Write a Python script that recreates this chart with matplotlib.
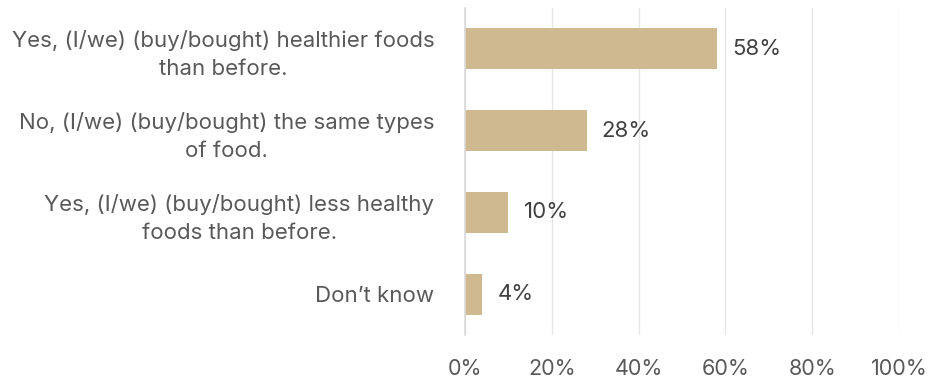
import matplotlib.pyplot as plt

categories = [
    "Yes, (I/we) (buy/bought) healthier foods\nthan before.",
    "No, (I/we) (buy/bought) the same types\nof food.",
    "Yes, (I/we) (buy/bought) less healthy\nfoods than before.",
    "Don\u2019t know",
]
values = [58, 28, 10, 4]
ticks = [0, 20, 40, 60, 80, 100]

plt.rcParams["font.family"] = ["Inter", "DejaVu Sans"]

fig = plt.figure(figsize=(9.3, 3.81), dpi=100)
ax = fig.add_axes([0.5, 0.1207, 0.4667, 0.8583])

pos = list(range(len(categories)))
ax.barh(pos, values, height=0.5, color="#cfb991", zorder=3)

for p, v in zip(pos, values):
    ax.annotate(f"{v}%", (v, p), xytext=(11, 0), textcoords="offset points",
                va="center", ha="left", fontsize=16, color="#404040")

ax.set_ylim(3.5, -0.5)
ax.set_xlim(0, 100)
ax.set_yticks(pos)
ax.set_yticklabels(categories, fontsize=16, color="#595959",
                   multialignment="center", linespacing=1.5)
ax.set_xticks(ticks)
ax.set_xticklabels([f"{t}%" for t in ticks], fontsize=15.5, color="#595959")
ax.tick_params(axis="y", length=0, pad=22)
ax.tick_params(axis="x", length=0, pad=17)

ax.grid(axis="x", color="#e6e6e6", linewidth=1, zorder=0)
for s in ["top", "right", "bottom"]:
    ax.spines[s].set_visible(False)
ax.spines["left"].set_color("#d9d9d9")
ax.spines["left"].set_linewidth(1.2)
ax.spines["left"].set_zorder(4)

fig.savefig("out.png", dpi=100)
